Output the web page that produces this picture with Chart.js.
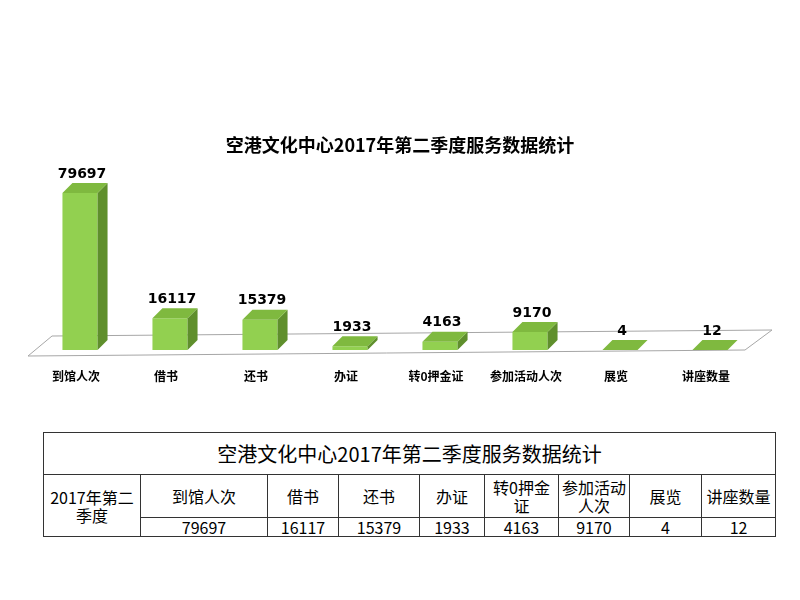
<!DOCTYPE html>
<html>
<head>
<meta charset="utf-8">
<script src="https://cdn.jsdelivr.net/npm/chart.js@4/dist/chart.umd.min.js"></script>
<style>
body{margin:0;background:#fff;font-family:"Noto Sans CJK SC","DejaVu Sans",sans-serif;}
#wrap{position:absolute;left:0;top:0;width:800px;height:420px;}
table{position:absolute;left:43px;top:432px;width:732px;table-layout:fixed;border-collapse:collapse;font-size:16px;color:#000;}
td{border:1px solid #333;text-align:center;padding:0;line-height:18px;overflow:hidden;white-space:nowrap;}
</style>
</head>
<body>
<div id="wrap"><canvas id="c" width="800" height="420"></canvas></div>
<table id="t"></table>
<script>
// data
const title = '空港文化中心2017年第二季度服务数据统计'
const categories = ['到馆人次','借书','还书','办证','转0押金证','参加活动人次','展览','讲座数量']
const tableHeads = ['到馆人次','借书','还书','办证','转0押金<br>证','参加活动<br>人次','展览','讲座数量']
const values = [79697,16117,15379,1933,4163,9170,4,12]
const rowLabel = '2017年第二<br>季度'
const colWidths = [97,127,71,81,65,74,71,72,74]

// table
let html = '<colgroup>'
colWidths.forEach(w=>{ html += '<col style="width:'+w+'px">' })
html += '</colgroup>'
html += '<tr><td colspan="9" style="height:41px;font-size:20px">'+title+'</td></tr>'
html += '<tr><td rowspan="2">'+rowLabel+'</td>'
tableHeads.forEach(h=>{ html += '<td style="height:42px">'+h+'</td>' })
html += '</tr><tr>'
values.forEach(v=>{ html += '<td style="height:18px">'+v+'</td>' })
html += '</tr>'
document.getElementById('t').innerHTML = html

const dx = 10, dy = 10
const bar3d = {
  id:'bar3d',
  beforeDatasetsDraw(chart){
    const ctx = chart.ctx, a = chart.chartArea
    // floor
    ctx.save()
    ctx.beginPath()
    ctx.moveTo(a.left-7, a.bottom+6)
    ctx.lineTo(a.left+17, a.bottom-14)
    ctx.lineTo(a.right+17, a.bottom-20)
    ctx.lineTo(a.right-10, a.bottom)
    ctx.closePath()
    ctx.fillStyle='#fff'; ctx.fill()
    ctx.strokeStyle='#a6a6a6'; ctx.lineWidth=1; ctx.stroke()
    ctx.restore()
  },
  afterDatasetsDraw(chart){
    const ctx = chart.ctx, meta = chart.getDatasetMeta(0)
    ctx.save()
    meta.data.forEach((b,i)=>{
      const l = b.x - b.width/2, r = b.x + b.width/2, t = b.y, bt = b.base
      // side
      ctx.beginPath()
      ctx.moveTo(r,bt); ctx.lineTo(r+dx,bt-dy); ctx.lineTo(r+dx,t-dy); ctx.lineTo(r,t); ctx.closePath()
      ctx.fillStyle='#5f8f2c'; ctx.fill()
      // top
      ctx.beginPath()
      ctx.moveTo(l,t); ctx.lineTo(l+dx,t-dy); ctx.lineTo(r+dx,t-dy); ctx.lineTo(r,t); ctx.closePath()
      ctx.fillStyle='#7fb93f'; ctx.fill()
      // value label
      ctx.fillStyle='#000'; ctx.font='bold 14px "DejaVu Sans", sans-serif'
      ctx.textAlign='center'; ctx.textBaseline='bottom'
      ctx.fillText(values[i], b.x+2, t-12)
      // category label
      ctx.font='bold 12px "Noto Sans CJK SC", sans-serif'
      ctx.textBaseline='middle'
      ctx.fillText(categories[i], b.x-4, bt+26)
    })
    ctx.restore()
  }
}

new Chart(document.getElementById('c'), {
  type:'bar',
  data:{labels:categories, datasets:[{data:values, backgroundColor:'#92d050', barPercentage:0.39, categoryPercentage:1}]},
  options:{
    responsive:false, animation:false,
    layout:{padding:{left:35,right:45,top:153,bottom:70}},
    plugins:{legend:{display:false}, tooltip:{enabled:false},
      title:{display:false}},
    scales:{
      x:{display:false},
      y:{display:false, min:0, max:100000}
    }
  },
  plugins:[bar3d,{
    id:'ttl',
    afterDraw(chart){
      const ctx = chart.ctx
      ctx.save(); ctx.fillStyle='#000'; ctx.font='bold 18px "Noto Sans CJK SC", sans-serif'
      ctx.textAlign='center'; ctx.textBaseline='middle'
      ctx.fillText(title, 400, 145); ctx.restore()
    }
  }]
})
</script>
</body>
</html>
